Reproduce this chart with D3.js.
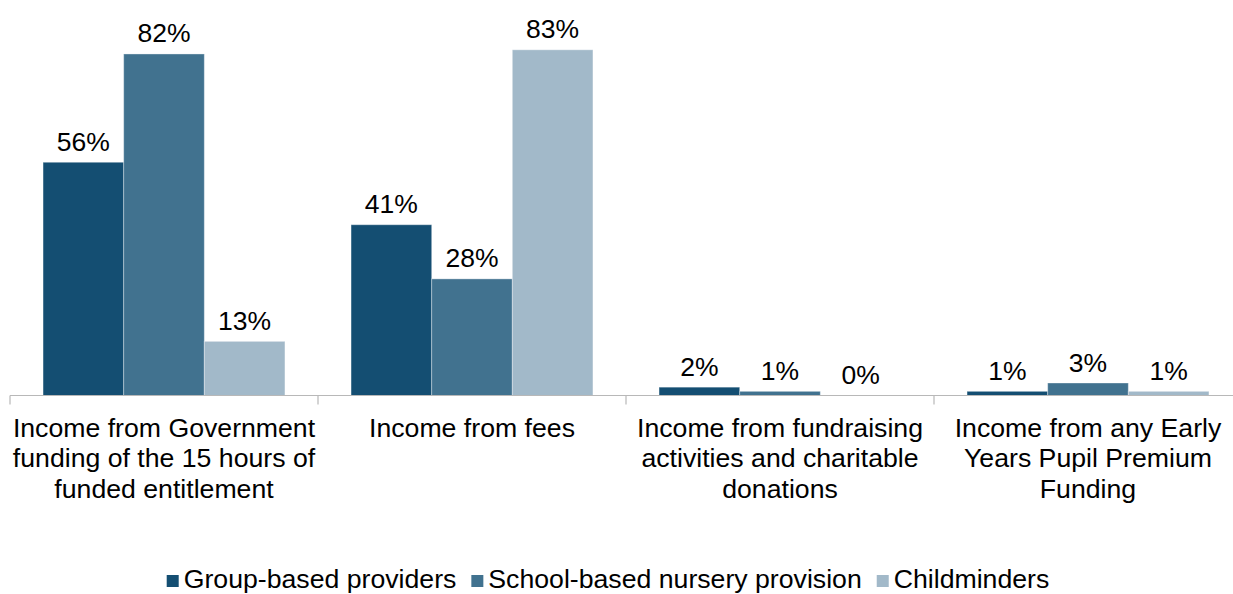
<!DOCTYPE html>
<html>
<head>
<meta charset="utf-8">
<script src="https://cdn.jsdelivr.net/npm/d3@7"></script>
<style>
  html, body { margin: 0; padding: 0; background: #fff; }
  svg { display: block; font-family: "Liberation Sans", Arial, sans-serif; }
</style>
</head>
<body>
<svg id="chart" width="1233" height="594"></svg>
<script>
const categories = [
  "Income from Government funding of the 15 hours of funded entitlement",
  "Income from fees",
  "Income from fundraising activities and charitable donations",
  "Income from any Early Years Pupil Premium Funding"
];
const seriesNames = ["Group-based providers", "School-based nursery provision", "Childminders"];
const groupBased = [56, 41, 2, 1];
const schoolBased = [82, 28, 1, 3];
const childminders = [13, 83, 0, 1];
const seriesColors = ["#144e72", "#41728f", "#a2b9c9"];

const seriesValues = [groupBased, schoolBased, childminders];
const data = categories.map((c, i) => ({
  category: c,
  values: seriesNames.map((s, j) => ({ series: s, value: seriesValues[j][i] }))
}));

const svg = d3.select("#chart");
const baseY = 395.5;

const x0 = d3.scaleBand().domain(categories).range([10, 1242]).padding(0);
const x1 = d3.scaleBand().domain(seriesNames).range([0, x0.bandwidth()]).paddingInner(0).paddingOuter(0.41);
const y = d3.scaleLinear().domain([0, 100]).range([baseY, -21]);
const color = d3.scaleOrdinal().domain(seriesNames).range(seriesColors);

// bars
const groups = svg.append("g").selectAll("g")
  .data(data).join("g")
  .attr("transform", d => `translate(${x0(d.category)},0)`);

groups.selectAll("rect")
  .data(d => d.values).join("rect")
  .attr("x", d => x1(d.series))
  .attr("width", x1.bandwidth())
  .attr("y", d => y(d.value))
  .attr("height", d => y(0) - y(d.value))
  .attr("fill", d => color(d.series))
  .attr("stroke", "#ffffff")
  .attr("stroke-opacity", 0.35)
  .attr("stroke-width", 1);

// value labels
groups.selectAll("text.val")
  .data(d => d.values).join("text")
  .attr("class", "val")
  .attr("x", d => x1(d.series) + x1.bandwidth() / 2)
  .attr("y", d => y(d.value) - 11.5)
  .attr("text-anchor", "middle")
  .attr("font-size", "26.5px")
  .attr("fill", "#000")
  .text(d => d.value + "%");

// x axis
const axis = d3.axisBottom(x0).tickSize(0).tickFormat("");
const axisG = svg.append("g").attr("transform", `translate(0,${baseY})`).call(axis);
axisG.select(".domain").attr("stroke", "#b8b8b8").attr("stroke-width", 1.2)
  .attr("d", `M10,0H1242`);
const boundaries = categories.map(c => x0(c)).concat([x0(categories[categories.length - 1]) + x0.bandwidth()]);
axisG.selectAll("line.bnd").data(boundaries).join("line")
  .attr("class", "bnd")
  .attr("x1", d => d).attr("x2", d => d)
  .attr("y1", 0).attr("y2", 9)
  .attr("stroke", "#b8b8b8").attr("stroke-width", 1.2);

// category labels with wrapping
const labelG = svg.append("g");
const maxW = 306;
categories.forEach(c => {
  const cx = x0(c) + x0.bandwidth() / 2;
  const t = labelG.append("text")
    .attr("x", cx).attr("y", 436.5)
    .attr("text-anchor", "middle")
    .attr("font-size", "26.67px")
    .attr("fill", "#000");
  const words = c.split(" ");
  let line = [];
  let lineNo = 0;
  let tspan = t.append("tspan").attr("x", cx).attr("dy", 0);
  words.forEach(w => {
    line.push(w);
    tspan.text(line.join(" "));
    if (tspan.node().getComputedTextLength() > maxW && line.length > 1) {
      line.pop();
      tspan.text(line.join(" "));
      line = [w];
      lineNo++;
      tspan = t.append("tspan").attr("x", cx).attr("dy", 30.7).text(w);
    }
  });
});

// legend
const legend = svg.append("g");
const items = legend.selectAll("g").data(seriesNames).join("g");
items.append("rect")
  .attr("width", 12).attr("height", 12)
  .attr("y", 575)
  .attr("fill", d => color(d));
items.append("text")
  .attr("x", 17).attr("y", 588)
  .attr("font-size", "26.67px")
  .attr("fill", "#000")
  .text(d => d);
let widths = [];
items.each(function () { widths.push(d3.select(this).select("text").node().getComputedTextLength()); });
const gapItem = 15;
const total = widths.reduce((a, w) => a + 17 + w, 0) + gapItem * (widths.length - 1);
let xPos = 608 - total / 2;
items.each(function (d, i) {
  d3.select(this).attr("transform", `translate(${xPos},0)`);
  xPos += 17 + widths[i] + gapItem;
});
</script>
</body>
</html>
